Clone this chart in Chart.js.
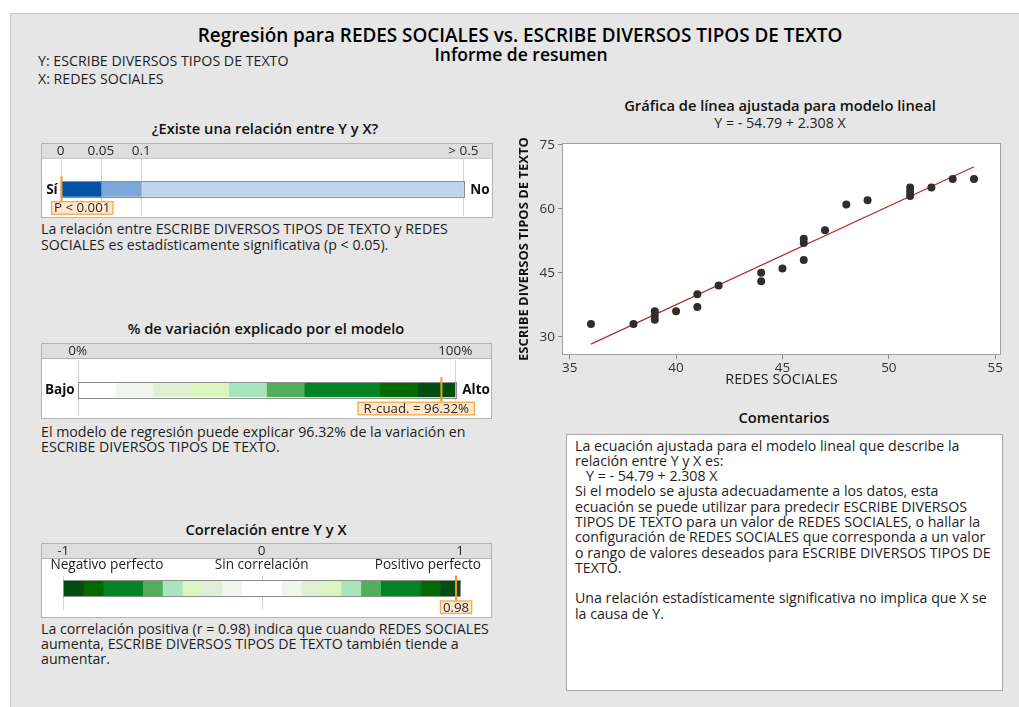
<!DOCTYPE html>
<html><head><meta charset="utf-8">
<script src="https://cdn.jsdelivr.net/npm/chart.js@4.4.1/dist/chart.umd.min.js"></script>
<style>
body{margin:0;background:#fff;width:1019px;height:707px;overflow:hidden;font-family:"Open Sans","Noto Sans",sans-serif;color:#1e1e1e;position:relative}
#panel{position:absolute;left:10px;top:13px;width:1009px;height:694px;background:#e6e6e6;border-left:1px solid #c9c9c9;border-top:1px solid #c9c9c9;box-sizing:border-box}
.t{position:absolute;white-space:nowrap;font-size:14.2px;line-height:15px}
.c{transform:translateX(-50%)}
.h{font-weight:600;font-size:14.7px;line-height:18px;color:#111}
.big{font-weight:600;line-height:22px;color:#000}
canvas{position:absolute}
#com{position:absolute;left:566px;top:434px;width:437px;height:257px;background:#fff;border:1px solid #a9a9a9;box-sizing:border-box}
#comtxt{position:absolute;left:575px;top:437.5px;font-size:14.2px;line-height:15.3px;white-space:pre}
</style></head><body>
<div id="panel"></div>

<div class="t big c" style="left:520px;top:24px;font-size:18.9px">Regresión para REDES SOCIALES vs. ESCRIBE DIVERSOS TIPOS DE TEXTO</div>
<div class="t big c" style="left:521px;top:43px;font-size:17.5px">Informe de resumen</div>
<div class="t" style="left:38px;top:52.5px">Y: ESCRIBE DIVERSOS TIPOS DE TEXTO</div>
<div class="t" style="left:38px;top:70.5px">X: REDES SOCIALES</div>

<div class="t h c" style="left:265px;top:119px">¿Existe una relación entre Y y X?</div>
<div class="t" style="left:41px;top:221px;line-height:15.5px">La relación entre ESCRIBE DIVERSOS TIPOS DE TEXTO y REDES<br>SOCIALES es estadísticamente significativa (p &lt; 0.05).</div>

<div class="t h c" style="left:266px;top:319px">% de variación explicado por el modelo</div>
<div class="t" style="left:41px;top:424px;line-height:15px">El modelo de regresión puede explicar 96.32% de la variación en<br>ESCRIBE DIVERSOS TIPOS DE TEXTO.</div>

<div class="t h c" style="left:266px;top:520px">Correlación entre Y y X</div>
<div class="t" style="left:41px;top:621px;line-height:15px">La correlación positiva (r = 0.98) indica que cuando REDES SOCIALES<br>aumenta, ESCRIBE DIVERSOS TIPOS DE TEXTO también tiende a<br>aumentar.</div>

<div class="t h c" style="left:780px;top:96px">Gráfica de línea ajustada para modelo lineal</div>
<div class="t c" style="left:780px;top:114.5px">Y = - 54.79 + 2.308 X</div>

<div class="t h c" style="left:784px;top:408px">Comentarios</div>
<div id="com"></div>
<div id="comtxt">La ecuación ajustada para el modelo lineal que describe la
relación entre Y y X es:
   Y = - 54.79 + 2.308 X
Si el modelo se ajusta adecuadamente a los datos, esta
ecuación se puede utilizar para predecir ESCRIBE DIVERSOS
TIPOS DE TEXTO para un valor de REDES SOCIALES, o hallar la
configuración de REDES SOCIALES que corresponda a un valor
o rango de valores deseados para ESCRIBE DIVERSOS TIPOS DE
TEXTO.

Una relación estadísticamente significativa no implica que X se
la causa de Y.</div>

<canvas id="pBand" width="452" height="75" style="left:41px;top:143px"></canvas>
<canvas id="rBand" width="451" height="76" style="left:41px;top:343px"></canvas>
<canvas id="cBand" width="451" height="75" style="left:41px;top:543px"></canvas>
<canvas id="scatter" width="510" height="265" style="left:505px;top:132px"></canvas>

<script>
// ---- scatter data (X: REDES SOCIALES, Y: ESCRIBE DIVERSOS TIPOS DE TEXTO) ----
const redesSociales = [36,38,39,39,39,40,41,41,42,44,44,45,46,46,46,47,48,49,51,51,51,52,53,54];
const escribeTexto  = [33,33,36,35,34,36,40,37,42,45,43,46,53,52,48,55,61,62,65,64,63,65,67,67];
const xTicks = [35,40,45,50,55];
const yTicks = [30,45,60,75];
const intercept = -54.79;
const slope = 2.308;
const fitRange = [36,54];

// ---- p-value band ----
const pBounds = [0,0.05,0.1,0.5];
const pColors = ['#0054a6','#7ba7d9','#bfd3ea'];
const pTicks = [0,0.05,0.1,0.5];
const pTickLabels = ['0','0.05','0.1','> 0.5'];
const pValue = 0.001;

// ---- R-squared band ----
const rBounds = [0,10,20,30,40,50,60,80,90,100];
const rColors = ['#ffffff','#f0f5ee','#e0efd4','#d9f5c0','#a8e4bc','#52ae5a','#008424','#006a00','#004d12'];
const rTicks = [0,100];
const rTickLabels = ['0%','100%'];
const rSq = 96.32;

// ---- correlation band ----
const cBounds = [-1,-0.9,-0.8,-0.6,-0.5,-0.4,-0.3,-0.2,-0.1,0.1,0.2,0.3,0.4,0.5,0.6,0.8,0.9,1];
const cColors = ['#004d12','#006a00','#008424','#52ae5a','#a8e4bc','#d9f5c0','#e0efd4','#f0f5ee','#ffffff','#f0f5ee','#e0efd4','#d9f5c0','#a8e4bc','#52ae5a','#008424','#006a00','#004d12'];
const cTicks = [-1,0,1];
const cTickLabels = ['-1','0','1'];
const corr = 0.98;

const FONT = '"Open Sans","Noto Sans",sans-serif';

const bandPlugin = {
  id:'band',
  beforeDraw(chart, args, o){
    const {ctx, width, height, chartArea:a, scales:{x}} = chart;
    ctx.save();
    ctx.fillStyle='#ffffff'; ctx.fillRect(0,0,width,height);
    ctx.fillStyle='#dedede'; ctx.fillRect(0,0,width,o.header);
    ctx.strokeStyle='#b3b3b3'; ctx.lineWidth=1;
    ctx.strokeRect(0.5,0.5,width-1,height-1);
    ctx.beginPath(); ctx.moveTo(0,o.header+0.5); ctx.lineTo(width,o.header+0.5); ctx.stroke();
    // header tick labels
    ctx.fillStyle='#2a2a2a'; ctx.font='13.5px '+FONT; ctx.textAlign='center'; ctx.textBaseline='middle';
    o.ticks.forEach((v,i)=>ctx.fillText(o.tickLabels[i], x.getPixelForValue(v), o.header/2+1));
    // gridlines
    ctx.strokeStyle='#d4d4d4';
    o.grid.forEach(v=>{const px=Math.round(x.getPixelForValue(v))+0.5;ctx.beginPath();ctx.moveTo(px,o.gridTop);ctx.lineTo(px,height-o.gridBot);ctx.stroke();});
    // sub labels
    if(o.sub){
      ctx.font='13.6px '+FONT; ctx.fillStyle='#1e1e1e';
      o.sub.forEach(s=>{
        ctx.textAlign=s.align;
        let px = s.align==='left'? s.pad : s.align==='right'? width-s.pad : x.getPixelForValue(s.value);
        ctx.fillText(s.text, px, o.subY);
      });
    }
    // side labels
    const cy=(a.top+a.bottom)/2;
    ctx.font='bold 13.5px '+FONT; ctx.fillStyle='#111';
    if(o.left){ctx.textAlign='right';ctx.fillText(o.left,a.left-3,cy+0.5);}
    if(o.right){ctx.textAlign='left';ctx.fillText(o.right,a.right+7,cy+0.5);}
    ctx.restore();
  },
  afterDatasetsDraw(chart, args, o){
    const {ctx, width, chartArea:a, scales:{x}} = chart;
    ctx.save();
    ctx.strokeStyle='#8e8e8e'; ctx.lineWidth=1;
    ctx.strokeRect(Math.round(a.left)+0.5, Math.round(a.top)-0.5, Math.round(a.right-a.left), Math.round(a.bottom-a.top)+1);
    // marker
    const mx = x.getPixelForValue(o.marker);
    ctx.font='13.3px '+FONT;
    const tw = ctx.measureText(o.markerText).width;
    const bw = tw+o.boxPad*2, bh=13.5;
    let bx = mx - bw/2;
    bx = Math.max(10, Math.min(bx, width-17-bw));
    const by = a.bottom+4.5;
    ctx.fillStyle='#fde8cf'; ctx.fillRect(bx,by,bw,bh);
    ctx.strokeStyle='#f6a540'; ctx.lineWidth=1.2; ctx.strokeRect(bx+0.5,by+0.5,bw-1,bh-1);
    ctx.fillStyle='#2a2a2a'; ctx.textAlign='left'; ctx.textBaseline='middle';
    ctx.fillText(o.markerText, bx+o.boxPad, by+bh/2+0.5);
    ctx.strokeStyle='#f39a1e'; ctx.lineWidth=2;
    ctx.beginPath(); ctx.moveTo(mx,a.top-5.5); ctx.lineTo(mx,by); ctx.stroke();
    ctx.restore();
  }
};

function makeBand(id, bounds, colors, min, max, pad, cfg){
  const datasets = colors.map((c,i)=>({data:[[bounds[i],bounds[i+1]]], backgroundColor:c, borderWidth:0, grouped:false, barPercentage:1, categoryPercentage:1}));
  new Chart(document.getElementById(id), {
    type:'bar',
    data:{labels:[''], datasets},
    options:{indexAxis:'y', responsive:false, animation:false, events:[],
      layout:{padding:pad},
      plugins:{legend:{display:false}, tooltip:{enabled:false}, band:cfg},
      scales:{x:{type:'linear', display:false, min, max}, y:{display:false}}},
    plugins:[bandPlugin]
  });
}

makeBand('pBand', pBounds, pColors, 0, 0.5, {left:19.7,right:29.7,top:38.7,bottom:21.3},
  {header:14.7, ticks:pTicks, tickLabels:pTickLabels, grid:pTicks, gridTop:15.7, gridBot:2,
   left:'Sí', right:'No', marker:pValue, markerText:'P < 0.001', boxPad:3});
makeBand('rBand', rBounds, rColors, 0, 100, {left:36.7,right:36.7,top:39.7,bottom:21.7},
  {header:15, ticks:rTicks, tickLabels:rTickLabels, grid:rTicks, gridTop:17, gridBot:3,
   left:'Bajo', right:'Alto', marker:rSq, markerText:'R-cuad. = 96.32%', boxPad:6});
makeBand('cBand', cBounds, cColors, -1, 1, {left:22.3,right:32,top:38,bottom:22},
  {header:15, ticks:cTicks, tickLabels:cTickLabels, grid:[-1,0], gridTop:33, gridBot:8,
   sub:[{text:'Negativo perfecto',align:'left',pad:9.5},{text:'Sin correlación',align:'center',value:0},{text:'Positivo perfecto',align:'right',pad:11}],
   subY:22.5, marker:corr, markerText:'0.98', boxPad:3});

// ---- scatter ----
const framePlugin = {
  id:'frame',
  beforeDraw(chart){const {ctx,chartArea:a}=chart;ctx.save();ctx.fillStyle='#fff';ctx.fillRect(a.left,a.top,a.right-a.left,a.bottom-a.top);ctx.restore();},
  afterDraw(chart){const {ctx,chartArea:a}=chart;ctx.save();ctx.strokeStyle='#a0a0a0';ctx.lineWidth=1;ctx.strokeRect(Math.round(a.left)+0.5,Math.round(a.top)+0.5,Math.round(a.right-a.left)-1,Math.round(a.bottom-a.top)-1);ctx.restore();}
};
const pts = redesSociales.map((x,i)=>({x, y:escribeTexto[i]}));
const fitPts = fitRange.map(x=>({x, y:intercept+slope*x}));
new Chart(document.getElementById('scatter'), {
  type:'scatter',
  data:{datasets:[
    {type:'line', data:fitPts, borderColor:'#b62a30', borderWidth:1.2, pointRadius:0, order:2},
    {data:pts, pointRadius:4, backgroundColor:'#2e2e2e', borderWidth:0, order:1}
  ]},
  options:{responsive:false, animation:false, events:[],
    layout:{padding:{left:0,top:10,right:14,bottom:0}},
    plugins:{legend:{display:false}, tooltip:{enabled:false}},
    scales:{
      x:{type:'linear', min:34.64, max:55.27,
        afterBuildTicks:s=>{s.ticks=xTicks.map(v=>({value:v}));},
        afterFit:s=>{s.height=42;},
        grid:{drawOnChartArea:false, drawTicks:true, tickLength:4, color:'#8a8a8a'},
        border:{display:false},
        ticks:{padding:1, color:'#333', font:{family:FONT,size:13.5}},
        title:{display:true, text:'REDES SOCIALES', color:'#1e1e1e', font:{family:FONT,size:14.5}, padding:{top:0,bottom:8}}},
      y:{type:'linear', min:25.74, max:75.4,
        afterBuildTicks:s=>{s.ticks=yTicks.map(v=>({value:v}));},
        afterFit:s=>{s.width=57;},
        grid:{drawOnChartArea:false, drawTicks:true, tickLength:4, color:'#8a8a8a'},
        border:{display:false},
        ticks:{padding:3, color:'#333', font:{family:FONT,size:13.5}},
        title:{display:true, text:'ESCRIBE DIVERSOS TIPOS DE TEXTO', color:'#111', font:{family:FONT,size:13,weight:'bold'}, padding:{top:11,bottom:0}}}
    }},
  plugins:[framePlugin]
});
</script>
</body></html>
